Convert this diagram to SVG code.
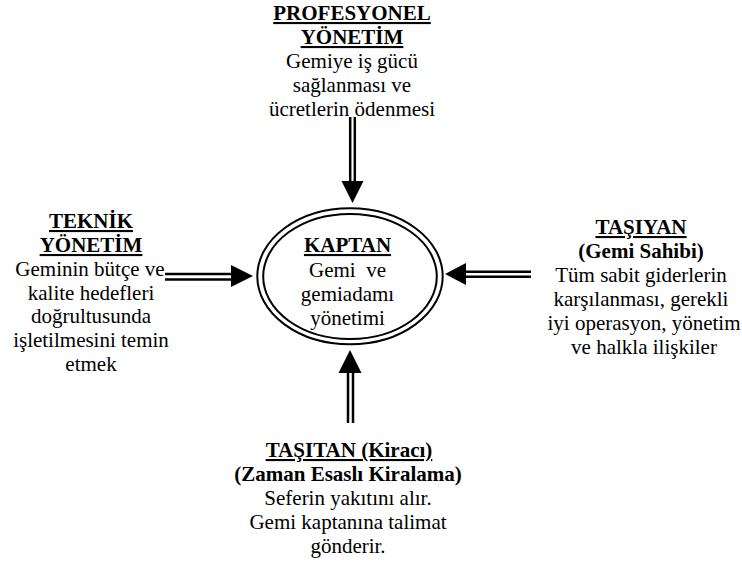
<svg xmlns="http://www.w3.org/2000/svg" width="742" height="564" viewBox="0 0 742 564">
<style>
text{font-family:'Liberation Serif','Times New Roman','DejaVu Serif',serif;font-size:21px;fill:#000;text-anchor:middle}
.b{font-weight:bold}
.u{text-decoration:underline}
.dl{stroke:#000;stroke-width:2.5;fill:none}
.hd{fill:#000;stroke:none}
.el{fill:none;stroke:#000;stroke-width:2}
</style>
<rect width="742" height="564" fill="#fff"/>
<g id="connectors">
  <g id="arrow-top">
    <line class="dl" x1="350.2" y1="117" x2="350.2" y2="182"/>
    <line class="dl" x1="354.8" y1="117" x2="354.8" y2="182"/>
    <polygon class="hd" points="341.5,181 363.5,181 352.5,203"/>
  </g>
  <g id="arrow-left">
    <line class="dl" x1="165" y1="274" x2="232" y2="274"/>
    <line class="dl" x1="165" y1="279.5" x2="232" y2="279.5"/>
    <polygon class="hd" points="231,265 231,287 253,276"/>
  </g>
  <g id="arrow-right">
    <line class="dl" x1="465" y1="271.7" x2="531" y2="271.7"/>
    <line class="dl" x1="465" y1="276.7" x2="531" y2="276.7"/>
    <polygon class="hd" points="466,263 466,285 445,274"/>
  </g>
  <g id="arrow-bottom">
    <line class="dl" x1="348" y1="372" x2="348" y2="423"/>
    <line class="dl" x1="353" y1="372" x2="353" y2="423"/>
    <polygon class="hd" points="338.5,373 361.5,373 350,350"/>
  </g>
</g>
<g font-family="Liberation Serif, DejaVu Serif, serif">
<g id="kaptan">
  <ellipse class="el" cx="350" cy="276.3" rx="92.7" ry="68"/>
  <ellipse class="el" cx="350" cy="276.5" rx="86.8" ry="62.5"/>
  <text x="347.5" y="252" class="b u">KAPTAN</text>
  <text x="347.5" y="277" xml:space="preserve">Gemi  ve</text>
  <text x="347.5" y="301">gemiadamı</text>
  <text x="347.5" y="325">yönetimi</text>
</g>
<g id="profesyonel">
  <text x="352" y="20" class="b u">PROFESYONEL</text>
  <text x="352" y="44" class="b u">YÖNETİM</text>
  <text x="352" y="68">Gemiye iş gücü</text>
  <text x="352" y="92">sağlanması ve</text>
  <text x="352" y="116">ücretlerin ödenmesi</text>
</g>
<g id="teknik">
  <text x="91" y="228" class="b u">TEKNİK</text>
  <text x="91" y="252" class="b u">YÖNETİM</text>
  <text x="90" y="275.5">Geminin bütçe ve</text>
  <text x="91" y="299.5">kalite hedefleri</text>
  <text x="91" y="323">doğrultusunda</text>
  <text x="91" y="347">işletilmesini temin</text>
  <text x="91" y="371">etmek</text>
</g>
<g id="tasiyan">
  <text x="641" y="234" class="b u">TAŞIYAN</text>
  <text x="641" y="258" class="b">(Gemi Sahibi)</text>
  <text x="641" y="282">Tüm sabit giderlerin</text>
  <text x="641" y="306">karşılanması, gerekli</text>
  <text x="644" y="330">iyi operasyon, yönetim</text>
  <text x="644" y="354">ve halkla ilişkiler</text>
</g>
<g id="tasitan">
  <text x="349" y="457" class="b u">TAŞITAN (Kiracı)</text>
  <text x="348" y="481" class="b">(Zaman Esaslı Kiralama)</text>
  <text x="348" y="505">Seferin yakıtını alır.</text>
  <text x="348" y="529">Gemi kaptanına talimat</text>
  <text x="348" y="553">gönderir.</text>
</g>
</g>
</svg>
